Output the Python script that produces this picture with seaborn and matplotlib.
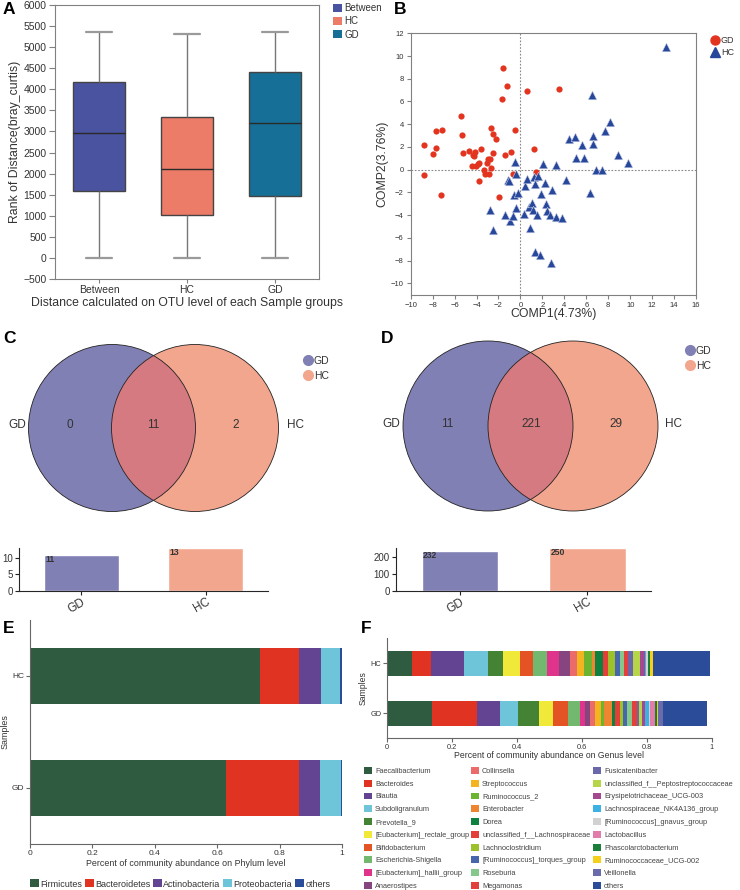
import numpy as np
import pandas as pd
import matplotlib
matplotlib.use('Agg')
import matplotlib.pyplot as plt
from matplotlib.patches import Patch, Circle
from matplotlib.lines import Line2D
import seaborn as sns

# ---------------- data ----------------
groups_a = ['Between', 'HC', 'GD']
between_summary = [0, 1580, 2960, 4170, 5350]   # min, q1, median, q3, max
hc_summary = [0, 1020, 2120, 3350, 5320]
gd_summary = [0, 1460, 3190, 4400, 5350]
colors_a = ['#4a53a0', '#ec7b68', '#166f96']

gd_x = [-8.78, -8.75, -7.96, -7.66, -7.66, -7.17, -7.26, -5.41, -5.35, -5.26, -4.65, -4.35,
        -4.19, -4.10, -4.44, -4.04, -3.89, -3.74, -3.59, -3.80, -3.28, -3.19, -3.04, -2.98,
        -2.83, -2.74, -2.67, -2.64, -2.52, -2.49, -2.25, -1.98, -1.67, -1.55, -1.19, -1.40,
        -0.88, -0.70, -0.52, 0.61, 1.28, 1.46, 3.55]
gd_y = [-0.44, 2.20, 1.38, 3.41, 1.94, 3.49, -2.20, 4.70, 3.05, 1.50, 1.62, 1.29,
        1.17, 1.59, 0.29, 0.29, 0.47, 0.59, 1.82, -1.00, 0.00, -0.41, 0.62, 0.94,
        -0.41, 0.97, 0.18, 3.67, 3.11, 1.47, 2.70, -2.44, 6.20, 8.93, 7.34, 1.26,
        1.53, -0.35, 3.52, 6.96, 1.85, -0.21, 7.08]
hc_x = [-0.49, -1.16, -1.03, -0.36, -0.61, -0.24, -2.80, -2.52, -1.37, -0.97, -0.64, -0.43,
        0.30, 0.43, 0.58, 0.76, 0.91, 1.03, 1.12, 1.28, 1.34, 1.58, 1.52, 1.37,
        1.79, 1.88, 2.10, 2.28, 2.34, 2.40, 2.74, 2.80, 2.92, 3.22, 3.22, 3.78,
        4.11, 4.41, 4.93, 5.08, 5.60, 5.75, 6.36, 6.54, 6.60, 6.57, 6.91, 7.39,
        7.73, 8.15, 8.85, 9.76, 13.29]
hc_y = [0.68, -0.94, -1.00, -0.41, -2.20, -2.09, -3.52, -5.29, -3.96, -4.52, -4.05, -3.35,
        -3.88, -1.47, -0.79, -3.29, -5.17, -2.91, -3.58, -0.65, -1.23, -0.59, -3.96, -7.25,
        -7.55, -2.17, 0.53, -1.17, -3.00, -3.64, -4.02, -8.19, -1.82, 0.41, -4.17, -4.23,
        -0.94, 2.70, 2.88, 1.03, 2.20, 1.06, -2.06, 6.55, 2.94, 2.29, -0.06, 0.00,
        3.44, 4.20, 1.26, 0.62, 10.81]

venn_groups = ['GD', 'HC']
venn_colors = ['#8180b5', '#f2a68e']
venn_overlap_color = '#d47a80'
venn_c_counts = [0, 11, 2]        # GD only, shared, HC only
venn_c_totals = [11, 13]
venn_d_counts = [11, 221, 29]
venn_d_totals = [232, 250]

samples = ['HC', 'GD']
phyla = ['Firmicutes', 'Bacteroidetes', 'Actinobacteria', 'Proteobacteria', 'others']
phylum_hc = [0.736, 0.127, 0.070, 0.060, 0.007]
phylum_gd = [0.629, 0.234, 0.065, 0.069, 0.003]
phylum_colors = ['#2f5c40', '#e03322', '#634493', '#6ec4d8', '#2b4c98']

genera = ['Faecalibacterium', 'Bacteroides', 'Blautia', 'Subdoligranulum', 'Prevotella_9',
          '[Eubacterium]_rectale_group', 'Bifidobacterium', 'Escherichia-Shigella',
          '[Eubacterium]_hallii_group', 'Anaerostipes', 'Collinsella', 'Streptococcus',
          'Ruminococcus_2', 'Enterobacter', 'Dorea', 'unclassified_f__Lachnospiraceae',
          'Lachnoclostridium', '[Ruminococcus]_torques_group', 'Roseburia', 'Megamonas',
          'Fusicatenibacter', 'unclassified_f__Peptostreptococcaceae',
          'Erysipelotrichaceae_UCG-003', 'Lachnospiraceae_NK4A136_group',
          '[Ruminococcus]_gnavus_group', 'Lactobacillus', 'Phascolarctobacterium',
          'Ruminococcaceae_UCG-002', 'Veillonella', 'others']
genus_hc = [0.076, 0.059, 0.101, 0.074, 0.046, 0.053, 0.039, 0.045, 0.037, 0.033,
            0.022, 0.020, 0.025, 0.010, 0.026, 0.014, 0.021, 0.016, 0.013, 0.011,
            0.017, 0.020, 0.015, 0.006, 0.004, 0.002, 0.004, 0.009, 0.001, 0.177]
genus_gd = [0.138, 0.139, 0.070, 0.057, 0.065, 0.041, 0.046, 0.038, 0.016, 0.015,
            0.016, 0.018, 0.009, 0.025, 0.010, 0.014, 0.010, 0.013, 0.015, 0.016,
            0.006, 0.007, 0.011, 0.013, 0.002, 0.014, 0.008, 0.002, 0.015, 0.137]
genus_colors = ['#2f5c40', '#e03322', '#634493', '#6ec4d8', '#448234', '#f1e93a', '#e35323',
                '#72b96f', '#e0338b', '#87457f', '#ea6b6a', '#f4b41f', '#6cb42f', '#ee8530',
                '#0e8140', '#e43e39', '#9cc12b', '#4766ab', '#86c78b', '#e2403d', '#6a67aa',
                '#b7d548', '#a4498f', '#3cb1e4', '#d1d1d1', '#e27caa', '#1b7e3b', '#f4cf1b',
                '#6b6aaa', '#2b4c98']

# ---------------- setup ----------------
sns.set_style('ticks')
plt.rcParams['font.family'] = ['Liberation Sans', 'DejaVu Sans']
plt.rcParams['axes.linewidth'] = 0.8

W, H = 740, 890
fig = plt.figure(figsize=(W / 100, H / 100), dpi=100)


def rect(x0, y0, x1, y1):
    return [x0 / W, 1 - y1 / H, (x1 - x0) / W, (y1 - y0) / H]


def fx(x):
    return x / W


def fy(y):
    return 1 - y / H


TXT = '#333333'

# ---------------- A: boxplot ----------------
axA = fig.add_axes(rect(55, 5, 319, 279))
dfA = pd.DataFrame({'group': np.repeat(groups_a, 5),
                    'value': between_summary + hc_summary + gd_summary})
sns.boxplot(data=dfA, x='group', y='value', hue='group', order=groups_a, hue_order=groups_a,
            palette=colors_a, width=0.6, saturation=1, legend=False, showfliers=False,
            linecolor='#444444', linewidth=1.0, ax=axA,
            whiskerprops=dict(color='#777777', linewidth=1.0),
            capprops=dict(color='#9a9a9a', linewidth=1.6),
            medianprops=dict(color='#2a2a2a', linewidth=1.0))
axA.set_ylim(-500, 6000)
axA.set_yticks(np.arange(-500, 6001, 500))
axA.set_xlim(-0.5, 2.5)
for s in axA.spines.values():
    s.set_color('#808080')
axA.tick_params(labelsize=7.5, colors='#808080', labelcolor=TXT, length=4, pad=2)
axA.tick_params(axis='x', length=3, pad=1.5)
axA.set_xlabel('Distance calculated on OTU level of each Sample groups', fontsize=8.8, color=TXT)
axA.set_ylabel('Rank of Distance(bray_curtis)', fontsize=8.8, color=TXT)
axA.yaxis.set_label_coords(-0.128, 0.5)
axA.xaxis.set_label_coords(0.5, -0.064)
fig.legend(handles=[Patch(facecolor=c, edgecolor='none') for c in colors_a], labels=groups_a,
           loc='upper left', bbox_to_anchor=(fx(333), fy(3)), frameon=False, fontsize=7,
           handlelength=0.9, handleheight=0.9, handletextpad=0.3, labelspacing=0.35,
           borderpad=0, borderaxespad=0, labelcolor=TXT)

# ---------------- B: scatter ----------------
axB = fig.add_axes(rect(410.7, 33.3, 696, 294.7))
dfB = pd.DataFrame({'x': gd_x + hc_x, 'y': gd_y + hc_y,
                    'group': ['GD'] * len(gd_x) + ['HC'] * len(hc_x)})
axB.axhline(0, color='#888888', ls=(0, (1.5, 1.5)), lw=0.8, zorder=0)
axB.axvline(0, color='#888888', ls=(0, (1.5, 1.5)), lw=0.8, zorder=0)
sns.scatterplot(data=dfB[dfB.group == 'GD'], x='x', y='y', color='#e2341f', marker='o', s=20,
                linewidth=0, legend=False, ax=axB)
sns.scatterplot(data=dfB[dfB.group == 'HC'], x='x', y='y', color='#27479a', marker='^', s=38,
                edgecolor='#c9cfe8', linewidth=0.4, legend=False, ax=axB)
axB.set_xlim(-10, 16)
axB.set_ylim(-11, 12)
axB.set_xticks(np.arange(-10, 17, 2))
axB.set_yticks(np.arange(-10, 13, 2))
for s in axB.spines.values():
    s.set_color('#808080')
axB.tick_params(labelsize=5.5, colors='#808080', labelcolor=TXT, length=3, pad=2)
axB.set_xlabel('COMP1(4.73%)', fontsize=8.8, color=TXT)
axB.set_ylabel('COMP2(3.76%)', fontsize=8.8, color=TXT)
axB.yaxis.set_label_coords(-0.078, 0.5)
axB.xaxis.set_label_coords(0.5, -0.052)
fig.legend(handles=[Line2D([], [], marker='o', ls='', color='#e2341f', markersize=6.5),
                    Line2D([], [], marker='^', ls='', color='#27479a', markersize=7)],
           labels=['GD', 'HC'], loc='upper left', bbox_to_anchor=(fx(710), fy(36)),
           frameon=False, fontsize=6.5, handlelength=1.0, handletextpad=0.2, labelspacing=0.35,
           borderpad=0, borderaxespad=0, labelcolor=TXT)


# ---------------- C / D: venn ----------------
def draw_venn(x0, x1, cx1, cx2, cy, r, counts, label_x, text_y, leg_xy):
    ax = fig.add_axes(rect(x0, 330, x1, 530))
    ax.set_xlim(x0, x1)
    ax.set_ylim(530, 330)
    ax.axis('off')
    c1 = Circle((cx1, cy), r, facecolor=venn_colors[0], edgecolor='none')
    c2 = Circle((cx2, cy), r, facecolor=venn_colors[1], edgecolor='none')
    ax.add_patch(c1)
    ax.add_patch(c2)
    lens = Circle((cx2, cy), r, facecolor=venn_overlap_color, edgecolor='none')
    ax.add_patch(lens)
    lens.set_clip_path(c1)
    for cx in (cx1, cx2):
        ax.add_patch(Circle((cx, cy), r, fill=False, edgecolor='#222222', lw=0.6))
    lx = [label_x[0], label_x[4]]
    for g, x in zip(venn_groups, lx):
        ax.text(x, text_y, g, ha='center', va='center', fontsize=8.5, color=TXT)
    for n, x in zip(counts, label_x[1:4]):
        ax.text(x, text_y, str(n), ha='center', va='center', fontsize=8.5, color=TXT)
    fig.legend(handles=[Line2D([], [], marker='o', ls='', color=c, markersize=7) for c in venn_colors],
               labels=venn_groups, loc='upper left', bbox_to_anchor=(fx(leg_xy[0]), fy(leg_xy[1])),
               frameon=False, fontsize=7.5, handlelength=0.8, handletextpad=0.15, labelspacing=0.45,
               borderpad=0, borderaxespad=0, labelcolor=TXT)


draw_venn(0, 370, 112, 195, 428, 83.5, venn_c_counts, [17, 70, 153, 236, 295], 425, (304, 356))
draw_venn(370, 740, 488, 573, 426, 85, venn_d_counts, [391, 447, 531, 616, 674], 424, (686, 346))


def draw_totals(x0, x1, totals, ymax, yticks):
    ax = fig.add_axes(rect(x0, 548, x1, 591))
    sns.barplot(x=venn_groups, y=totals, hue=venn_groups, palette=venn_colors, saturation=1,
                width=0.6, legend=False, ax=ax)
    ax.set_ylim(0, ymax)
    ax.set_xlim(-0.5, 1.5)
    ax.set_yticks(yticks)
    sns.despine(ax=ax)
    for i, v in enumerate(totals):
        ax.text(i - 0.29, v, str(v), ha='left', va='top', fontsize=6.2, fontweight='bold',
                color=TXT)
    ax.tick_params(axis='y', labelsize=7, length=3, colors='#222222', labelcolor=TXT, pad=1.5)
    ax.tick_params(axis='x', labelsize=8.5, length=3, colors='#222222', labelcolor=TXT, pad=0.5)
    for lab in ax.get_xticklabels():
        lab.set_rotation(30)
        lab.set_ha('right')
        lab.set_rotation_mode('anchor')
    ax.set_xlabel('')
    ax.set_ylabel('')


draw_totals(19, 268, venn_c_totals, 13, [0, 5, 10])
draw_totals(396, 651, venn_d_totals, 250, [0, 100, 200])


# ---------------- E / F: stacked bars ----------------
def stacked(axrect, names, v_hc, v_gd, cols, xlabel, tsize, lsize, ylab_x):
    ax = fig.add_axes(axrect)
    cum_hc = np.cumsum(v_hc)
    cum_gd = np.cumsum(v_gd)
    for i in reversed(range(len(names))):
        sns.barplot(x=[cum_hc[i], cum_gd[i]], y=samples, color=cols[i], orient='h', width=0.5,
                    saturation=1, linewidth=0, ax=ax)
    ax.set_xlim(0, 1)
    ax.set_ylim(1.5, -0.5)
    ax.set_xticks([0, 0.2, 0.4, 0.6, 0.8, 1.0])
    ax.set_xticklabels(['0', '0.2', '0.4', '0.6', '0.8', '1'])
    sns.despine(ax=ax)
    for s in ('left', 'bottom'):
        ax.spines[s].set_color('#666666')
    ax.tick_params(labelsize=tsize, length=3, colors='#666666', labelcolor=TXT, pad=1.2)
    ax.set_xlabel(xlabel, fontsize=lsize, color=TXT)
    ax.set_ylabel('Samples', fontsize=lsize, color=TXT)
    ax.yaxis.set_label_coords(ylab_x, 0.5)
    return ax


axE = stacked(rect(30, 620, 342, 844), phyla, phylum_hc, phylum_gd, phylum_colors,
              'Percent of community abundance on Phylum level', 6.0, 6.4, -0.066)
axE.xaxis.set_label_coords(0.5, -0.068)
fig.legend(handles=[Patch(facecolor=c, edgecolor='none') for c in phylum_colors], labels=phyla,
           ncol=5, loc='center left', bbox_to_anchor=(fx(30), fy(884)), frameon=False,
           fontsize=6.45, handlelength=1.0, handleheight=1.0, handletextpad=0.15,
           columnspacing=0.3, borderpad=0, borderaxespad=0, labelcolor=TXT)

axF = stacked(rect(387.3, 638, 711.7, 738), genera, genus_hc, genus_gd, genus_colors,
              'Percent of community abundance on Genus level', 5.3, 6.2, -0.06)
axF.xaxis.set_label_coords(0.5, -0.13)
col_x = [364, 471, 593]
for k in range(3):
    sl = slice(10 * k, 10 * k + 10)
    fig.legend(handles=[Patch(facecolor=c, edgecolor='none') for c in genus_colors[sl]],
               labels=genera[sl], loc='upper left', bbox_to_anchor=(fx(col_x[k]), fy(767)),
               frameon=False, fontsize=5.3, handlelength=1.05, handleheight=1.05,
               handletextpad=0.45, labelspacing=0.66, borderpad=0, borderaxespad=0,
               labelcolor='#444444')

# ---------------- panel letters ----------------
for letter, x, y in [('A', 3, 2), ('B', 394, 2), ('C', 3, 331), ('D', 381, 331),
                     ('E', 3, 621), ('F', 361, 621)]:
    fig.text(fx(x), fy(y), letter, fontsize=12.5, fontweight='bold', va='top', ha='left',
             color='black')

fig.savefig('out.png', dpi=100)
